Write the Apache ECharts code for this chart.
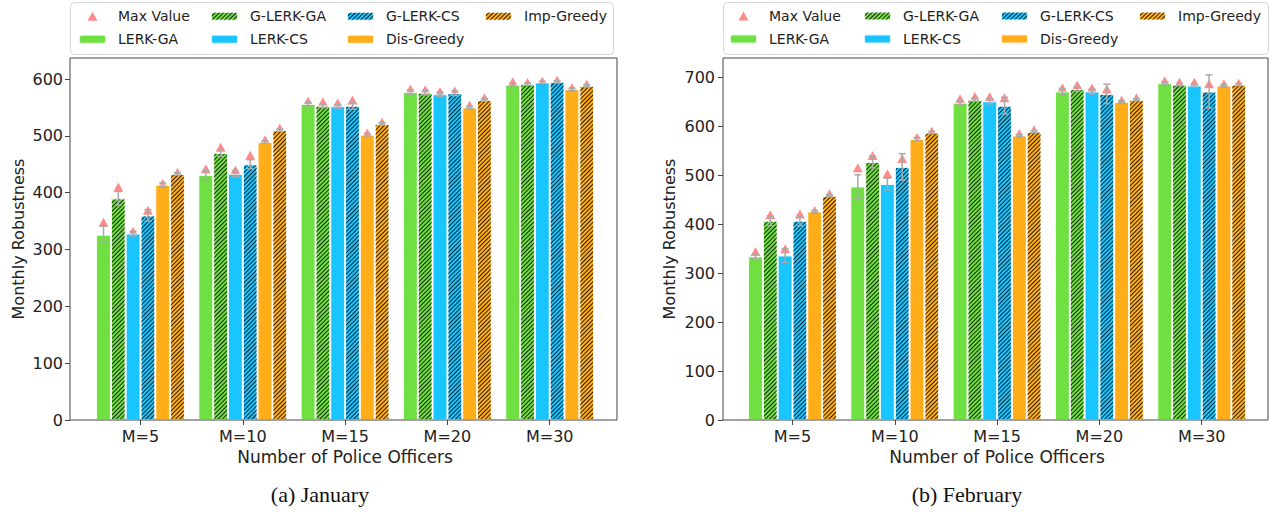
<!DOCTYPE html>
<html>
<head>
<meta charset="utf-8">
<script src="https://cdn.jsdelivr.net/npm/echarts@6/dist/echarts.min.js"></script>
<style>html,body{margin:0;padding:0;background:#fff;}#c{width:1279px;height:512px;}</style>
</head>
<body>
<div id="c"></div>
<script>
// ---------- data ----------
const categories = ['M=5', 'M=10', 'M=15', 'M=20', 'M=30'];
const methods = ['LERK-GA', 'G-LERK-GA', 'LERK-CS', 'G-LERK-CS', 'Dis-Greedy', 'Imp-Greedy'];
const yTicksJan = [0, 100, 200, 300, 400, 500, 600];
const yTicksFeb = [0, 100, 200, 300, 400, 500, 600, 700];

// January: mean values
const janLERKGA   = [326, 431, 556, 577, 590];
const janGLERKGA  = [390, 470, 553, 576, 591];
const janLERKCS   = [328, 433, 552, 573, 594];
const janGLERKCS  = [360, 450, 553, 575, 595];
const janDis      = [414, 489, 502, 550, 582];
const janImp      = [433, 510, 521, 563, 588];
// January: max values
const janLERKGAMax  = [348, 442, 561, 582, 595];
const janGLERKGAMax = [410, 480, 560, 581, 594];
const janLERKCSMax  = [332, 440, 558, 578, 596];
const janGLERKCSMax = [369, 466, 563, 579, 598];
const janDisMax     = [416, 493, 505, 554, 585];
const janImpMax     = [436, 514, 524, 567, 591];
// January: error (half length)
const janLERKGAErr  = [15, 8, 3, 4, 2];
const janGLERKGAErr = [12, 6, 3, 4, 2];
const janLERKCSErr  = [4, 5, 3, 4, 2];
const janGLERKCSErr = [10, 8, 6, 4, 2];
const janDisErr     = [3, 2, 2, 2, 2];
const janImpErr     = [2, 2, 2, 2, 2];

// February: mean values
const febLERKGA   = [334, 477, 648, 671, 688];
const febGLERKGA  = [407, 527, 654, 676, 685];
const febLERKCS   = [336, 482, 651, 671, 683];
const febGLERKCS  = [407, 517, 642, 666, 671];
const febDis      = [426, 574, 581, 650, 683];
const febImp      = [458, 587, 589, 654, 685];
// February: max values
const febLERKGAMax  = [344, 515, 656, 678, 693];
const febGLERKGAMax = [419, 540, 661, 684, 690];
const febLERKCSMax  = [350, 503, 660, 678, 690];
const febGLERKCSMax = [421, 534, 658, 676, 687];
const febDisMax     = [428, 577, 585, 653, 687];
const febImpMax     = [462, 590, 593, 658, 688];
// February: error (half length)
const febLERKGAErr  = [5, 24, 4, 6, 2];
const febGLERKGAErr = [10, 12, 3, 4, 2];
const febLERKCSErr  = [14, 12, 5, 5, 3];
const febGLERKCSErr = [10, 27, 17, 20, 34];
const febDisErr     = [2, 3, 2, 2, 2];
const febImpErr     = [2, 2, 2, 2, 2];

// ---------- styles ----------
const FONT = 'DejaVu Sans';
const BAR_W = 14.8;
const colors = ['#5fdc2c', '#00bfff', '#ffa500'];
const hatch = {
  symbol: 'rect', symbolSize: 1, dashArrayX: [1, 0], dashArrayY: [1, 2],
  rotation: -Math.PI / 4, color: 'rgba(0,0,0,0.9)'
};
function styleFor(m) {
  const base = colors[Math.floor(m / 2)];
  const s = { color: base, opacity: 0.9, borderColor: 'rgba(255,255,255,0.9)', borderWidth: 1 };
  if (m % 2 === 1) s.decal = hatch;
  return s;
}

const janMeans = [janLERKGA, janGLERKGA, janLERKCS, janGLERKCS, janDis, janImp];
const janMaxs = [janLERKGAMax, janGLERKGAMax, janLERKCSMax, janGLERKCSMax, janDisMax, janImpMax];
const janErrs = [janLERKGAErr, janGLERKGAErr, janLERKCSErr, janGLERKCSErr, janDisErr, janImpErr];
const febMeans = [febLERKGA, febGLERKGA, febLERKCS, febGLERKCS, febDis, febImp];
const febMaxs = [febLERKGAMax, febGLERKGAMax, febLERKCSMax, febGLERKCSMax, febDisMax, febImpMax];
const febErrs = [febLERKGAErr, febGLERKGAErr, febLERKCSErr, febGLERKCSErr, febDisErr, febImpErr];

function extraData(means, maxs, errs) {
  const out = [];
  for (let m = 0; m < methods.length; m++)
    for (let i = 0; i < categories.length; i++)
      out.push([i, means[m][i], errs[m][i], maxs[m][i], m]);
  return out;
}

function renderErr(params, api) {
  const i = api.value(0), mean = api.value(1), err = api.value(2), m = api.value(4);
  const x = api.coord([i, mean])[0] + (m - 2.5) * BAR_W;
  const top = api.coord([i, mean + err])[1];
  const bot = api.coord([i, mean - err])[1];
  const cap = 3.5;
  const st = { stroke: '#a9a9a9', lineWidth: 1.5 };
  return { type: 'group', children: [
    { type: 'line', shape: { x1: x, y1: top, x2: x, y2: bot }, style: st },
    { type: 'line', shape: { x1: x - cap, y1: top, x2: x + cap, y2: top }, style: st },
    { type: 'line', shape: { x1: x - cap, y1: bot, x2: x + cap, y2: bot }, style: st }
  ]};
}
function renderTri(params, api) {
  const i = api.value(0), mx = api.value(3), m = api.value(4);
  const c = api.coord([i, mx]);
  const x = c[0] + (m - 2.5) * BAR_W, y = c[1];
  return { type: 'polygon', shape: { points: [[x - 5, y + 4.5], [x + 5, y + 4.5], [x, y - 4.5]] },
    style: { fill: 'rgba(255,120,120,0.85)' } };
}

function panelSeries(gridAxis, means, maxs, errs) {
  const s = [];
  const extra = extraData(means, maxs, errs);
  s.push({ type: 'custom', name: 'Max Value', xAxisIndex: gridAxis, yAxisIndex: gridAxis, z: 1,
    renderItem: renderTri, data: extra, encode: { x: 0, y: 3 }, itemStyle: { color: 'rgba(255,120,120,0.85)' }, silent: true });
  for (let m = 0; m < methods.length; m++) {
    s.push({ type: 'bar', name: methods[m], xAxisIndex: gridAxis, yAxisIndex: gridAxis, z: 2,
      barWidth: BAR_W, barGap: '0%', data: means[m], itemStyle: styleFor(m), silent: true });
  }
  s.push({ type: 'custom', name: 'err', xAxisIndex: gridAxis, yAxisIndex: gridAxis, z: 3,
    renderItem: renderErr, data: extra, encode: { x: 0, y: 1 }, silent: true });
  return s;
}

function legends(xs, rowTop) {
  const cols = [['Max Value', 'LERK-GA'], ['G-LERK-GA', 'LERK-CS'], ['G-LERK-CS', 'Dis-Greedy'], ['Imp-Greedy']];
  return cols.map((d, k) => ({
    orient: 'vertical', align: 'left', left: xs[k], top: rowTop, padding: 0, itemWidth: 27, itemHeight: 9, itemGap: 7,
    selectedMode: false,
    data: d.map(n => n === 'Max Value'
      ? { name: n, icon: 'path://M5,0 L10,9 L0,9 Z' }
      : { name: n }),
    textStyle: { fontFamily: FONT, fontSize: 14, color: '#222', lineHeight: 16, padding: [0, 0, 0, 7] }
  }));
}

function yAxisData(gi, max, ticks, offset, nameGap, margin) {
  return { type: 'value', gridIndex: gi, min: 0, max: max, offset: offset,
    axisLine: { show: false }, splitLine: { show: false },
    axisTick: { show: true, length: 5, lineStyle: { color: '#444' }, customValues: ticks },
    axisLabel: { fontFamily: FONT, fontSize: 16, color: '#222', margin: margin, customValues: ticks },
    name: 'Monthly Robustness', nameLocation: 'middle', nameGap: nameGap, nameRotate: 90,
    nameTextStyle: { fontFamily: FONT, fontSize: 16, color: '#222' } };
}
function xAxisData(gi) {
  return { type: 'category', gridIndex: gi, data: categories,
    axisLine: { show: false },
    axisTick: { show: true, alignWithLabel: true, length: 5, lineStyle: { color: '#444' } },
    axisLabel: { fontFamily: FONT, fontSize: 16, color: '#222', margin: 8 },
    name: 'Number of Police Officers', nameLocation: 'middle', nameGap: 28,
    nameTextStyle: { fontFamily: FONT, fontSize: 17, color: '#222' } };
}
const hiddenX = gi => ({ type: 'value', gridIndex: gi, show: false });
const hiddenY = gi => ({ type: 'value', gridIndex: gi, show: false });

const captionStyle = { fontFamily: 'Liberation Serif', fontSize: 22, fontWeight: 'normal', color: '#111', lineHeight: 24 };

const option = {
  animation: false,
  backgroundColor: '#fff',
  grid: [
    { left: 70, top: 58, width: 547, height: 362, show: true, borderColor: '#444', borderWidth: 1, backgroundColor: 'transparent', z: 5 },
    { left: 89.35, top: 58, width: 511.5, height: 362 },
    { left: 723, top: 58, width: 545, height: 362, show: true, borderColor: '#444', borderWidth: 1, backgroundColor: 'transparent', z: 5 },
    { left: 741.35, top: 58, width: 511.5, height: 362 }
  ],
  xAxis: [hiddenX(0), xAxisData(1), hiddenX(2), xAxisData(3)],
  yAxis: [hiddenY(0), yAxisData(1, 637, yTicksJan, 19.35, 44, 7), hiddenY(2), yAxisData(3, 739.4, yTicksFeb, 18.35, 46, 8)],
  legend: [].concat(legends([78, 210, 346, 484], 8.3), legends([729, 863, 1000, 1138], 8)),
  title: [
    { text: '(a) January', left: 320, top: 482, textAlign: 'center', padding: 0, textStyle: captionStyle },
    { text: '(b) February', left: 967, top: 482, textAlign: 'center', padding: 0, textStyle: captionStyle }
  ],
  graphic: [
    { type: 'rect', left: 70, top: 2, shape: { width: 543, height: 52, r: 4 }, style: { fill: '#fff', stroke: '#d6d6d6', lineWidth: 1 }, z: -10, silent: true },
    { type: 'rect', left: 723, top: 2, shape: { width: 545, height: 52, r: 4 }, style: { fill: '#fff', stroke: '#d6d6d6', lineWidth: 1 }, z: -10, silent: true }
  ],
  series: [].concat(
    panelSeries(1, janMeans, janMaxs, janErrs),
    panelSeries(3, febMeans, febMaxs, febErrs)
  )
};
const chart = echarts.init(document.getElementById('c'), null, { renderer: 'svg' });
chart.setOption(option);
</script>
</body>
</html>
